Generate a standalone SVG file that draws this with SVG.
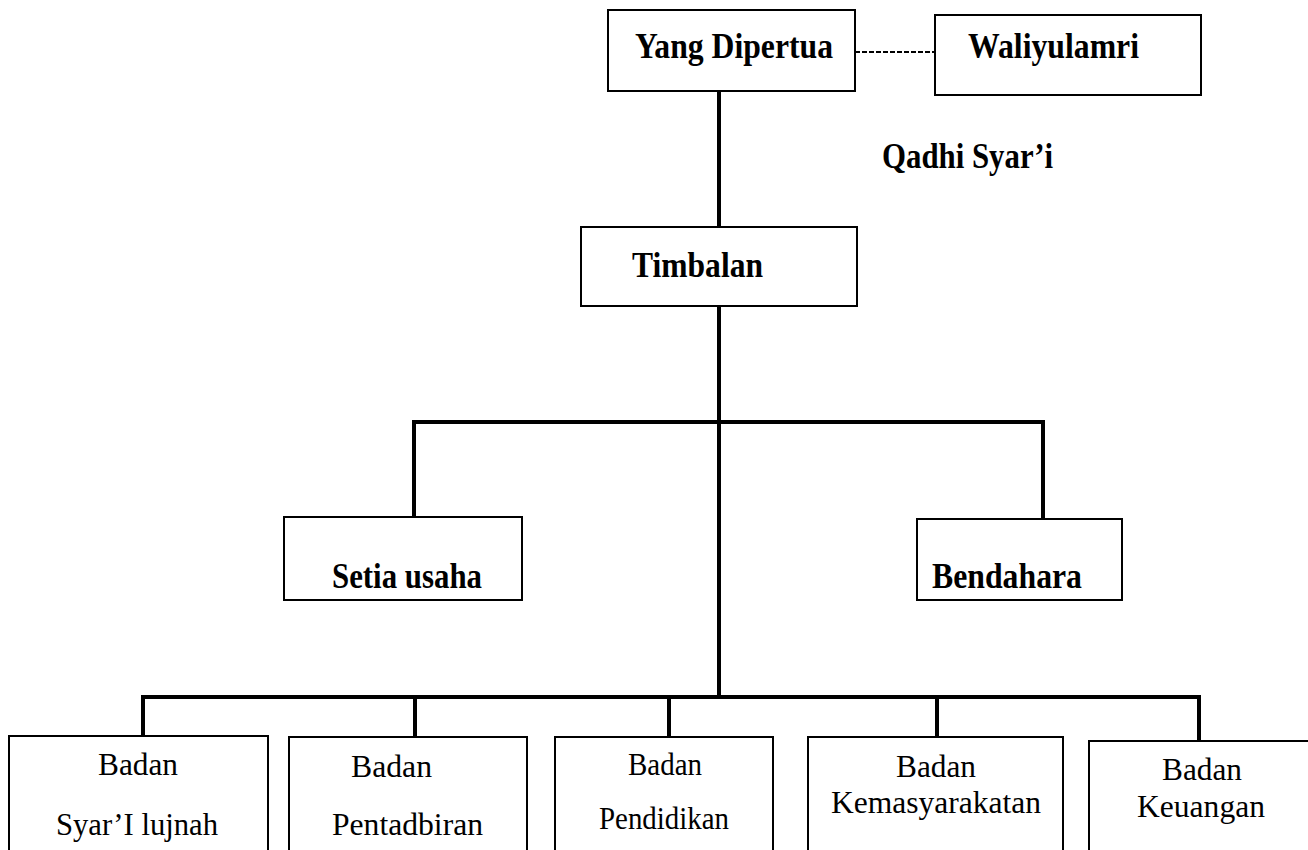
<svg xmlns="http://www.w3.org/2000/svg" width="1308" height="850" viewBox="0 0 1308 850">
<style>
.box{fill:#fff;stroke:#000;stroke-width:2}
.c{fill:none;stroke:#000;stroke-width:4;stroke-linecap:square}
.d{fill:none;stroke:#000;stroke-width:2;stroke-dasharray:5 2}
.b{font-family:"Liberation Serif","Times New Roman",serif;font-weight:bold;font-size:36px;fill:#000}
.r{font-family:"Liberation Serif","Times New Roman",serif;font-size:32px;fill:#000}
</style>
<rect width="1308" height="850" fill="#fff"/>
<g id="connectors">
<line class="d" x1="855" y1="52" x2="935" y2="52"/>
<line class="c" x1="719" y1="91" x2="719" y2="227"/>
<line class="c" x1="719" y1="306" x2="719" y2="697"/>
<polyline class="c" points="414,517 414,422 1043,422 1043,519"/>
<line class="c" x1="143" y1="697" x2="1199" y2="697"/>
<line class="c" x1="143" y1="697" x2="143" y2="736"/>
<line class="c" x1="415" y1="697" x2="415" y2="737"/>
<line class="c" x1="669" y1="697" x2="669" y2="737"/>
<line class="c" x1="937" y1="697" x2="937" y2="737"/>
<line class="c" x1="1199" y1="697" x2="1199" y2="741"/>
</g>
<g id="yang-dipertua">
<rect class="box" x="608" y="10" width="247" height="81"/>
<text class="b" x="635" y="58" textLength="198" lengthAdjust="spacingAndGlyphs">Yang Dipertua</text>
</g>
<g id="waliyulamri">
<rect class="box" x="935" y="15" width="266" height="80"/>
<text class="b" x="968" y="58" textLength="171" lengthAdjust="spacingAndGlyphs">Waliyulamri</text>
</g>
<g id="qadhi-syari">
<text class="b" x="882" y="168" textLength="171" lengthAdjust="spacingAndGlyphs">Qadhi Syar’i</text>
</g>
<g id="timbalan">
<rect class="box" x="581" y="227" width="276" height="79"/>
<text class="b" x="632" y="277" textLength="131" lengthAdjust="spacingAndGlyphs">Timbalan</text>
</g>
<g id="setia-usaha">
<rect class="box" x="284" y="517" width="238" height="83"/>
<text class="b" x="332" y="588" textLength="150" lengthAdjust="spacingAndGlyphs">Setia usaha</text>
</g>
<g id="bendahara">
<rect class="box" x="917" y="519" width="205" height="81"/>
<text class="b" x="932" y="588" textLength="150" lengthAdjust="spacingAndGlyphs">Bendahara</text>
</g>
<g id="badan-syari">
<rect class="box" x="9" y="736" width="259" height="130"/>
<text class="r" x="98" y="775" textLength="80" lengthAdjust="spacingAndGlyphs">Badan</text>
<text class="r" x="56" y="835" textLength="162" lengthAdjust="spacingAndGlyphs">Syar’I lujnah</text>
</g>
<g id="badan-pentadbiran">
<rect class="box" x="289" y="737" width="238" height="130"/>
<text class="r" x="351" y="777" textLength="81" lengthAdjust="spacingAndGlyphs">Badan</text>
<text class="r" x="332" y="835" textLength="151" lengthAdjust="spacingAndGlyphs">Pentadbiran</text>
</g>
<g id="badan-pendidikan">
<rect class="box" x="555" y="737" width="218" height="130"/>
<text class="r" x="628" y="775" textLength="74" lengthAdjust="spacingAndGlyphs">Badan</text>
<text class="r" x="599" y="829" textLength="130" lengthAdjust="spacingAndGlyphs">Pendidikan</text>
</g>
<g id="badan-kemasyarakatan">
<rect class="box" x="808" y="737" width="255" height="130"/>
<text class="r" x="896" y="777" textLength="80" lengthAdjust="spacingAndGlyphs">Badan</text>
<text class="r" x="831" y="813" textLength="210" lengthAdjust="spacingAndGlyphs">Kemasyarakatan</text>
</g>
<g id="badan-keuangan">
<rect class="box" x="1089" y="741" width="240" height="130"/>
<text class="r" x="1162" y="780" textLength="80" lengthAdjust="spacingAndGlyphs">Badan</text>
<text class="r" x="1137" y="817" textLength="128" lengthAdjust="spacingAndGlyphs">Keuangan</text>
</g>
</svg>
